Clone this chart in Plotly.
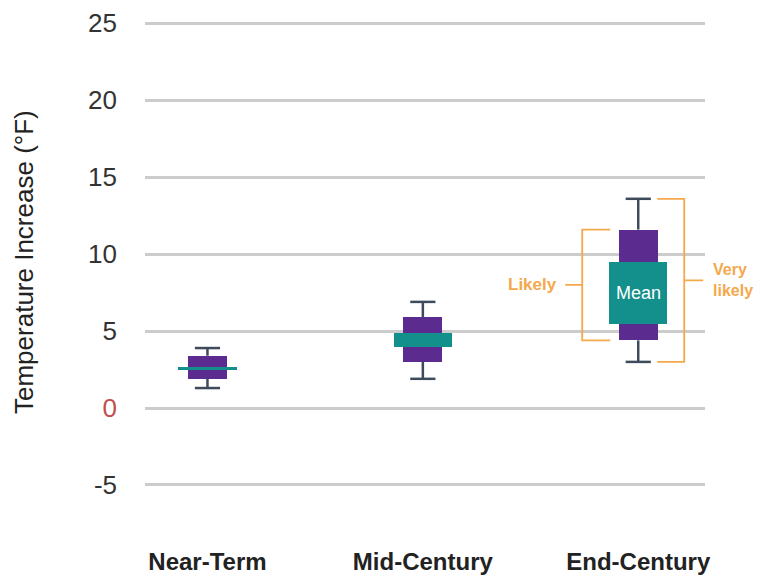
import plotly.graph_objects as go

categories = ["Near-Term", "Mid-Century", "End-Century"]
very_likely_low = [1.3, 1.9, 3.0]
very_likely_high = [3.9, 6.9, 13.6]
likely_low = [1.9, 3.0, 4.4]
likely_high = [3.4, 5.9, 11.6]
mean_low = [2.5, 4.0, 5.45]
mean_high = [2.7, 4.9, 9.5]

tick_vals = [-5, 0, 5, 10, 15, 20, 25]
tick_text = ["-5", "<span style='color:#c0504d'>0</span>", "5", "10", "15", "20", "25"]

PURPLE = "#5b2b8f"
TEAL = "#14908c"
WHISK = "#3e4b5c"
ORANGE = "#f5a84c"
FONT = "Liberation Sans, Arial, sans-serif"

fig = go.Figure()

# whisker stems (outside the boxes)
sx, sy = [], []
for c, vl, ll, lh, vh in zip(categories, very_likely_low, likely_low, likely_high, very_likely_high):
    sx += [c, c, None, c, c, None]
    sy += [vl, ll, None, lh, vh, None]
fig.add_trace(go.Scatter(x=sx, y=sy, mode="lines", line=dict(color=WHISK, width=2.5),
                         hoverinfo="skip", showlegend=False))
# whisker caps
fig.add_trace(go.Scatter(x=categories + categories, y=very_likely_low + very_likely_high,
                         mode="markers",
                         marker=dict(symbol="line-ew", size=18, line=dict(color=WHISK, width=2.5)),
                         hoverinfo="skip", showlegend=False))

# likely range (purple)
fig.add_trace(go.Bar(x=categories, base=likely_low,
                     y=[h - l for h, l in zip(likely_high, likely_low)],
                     width=0.18, marker=dict(color=PURPLE, line=dict(width=0)),
                     showlegend=False))
# mean range (teal)
fig.add_trace(go.Bar(x=categories, base=mean_low,
                     y=[h - l for h, l in zip(mean_high, mean_low)],
                     width=0.27, marker=dict(color=TEAL, line=dict(width=0)),
                     showlegend=False))

end = categories[2]
li_mid = (likely_low[2] + likely_high[2]) / 2
vl_mid = (very_likely_low[2] + very_likely_high[2]) / 2
fig.add_shape(type="path", xref="x", yref="y", xsizemode="pixel", xanchor=end,
              path=f"M -28,{likely_high[2]} L -56,{likely_high[2]} L -56,{likely_low[2]} L -28,{likely_low[2]} "
                   f"M -56,{li_mid} L -73,{li_mid}",
              line=dict(color=ORANGE, width=1.8))
fig.add_shape(type="path", xref="x", yref="y", xsizemode="pixel", xanchor=end,
              path=f"M 19,{very_likely_high[2]} L 46,{very_likely_high[2]} L 46,{very_likely_low[2]} L 19,{very_likely_low[2]} "
                   f"M 46,{vl_mid} L 65,{vl_mid}",
              line=dict(color=ORANGE, width=1.8))

fig.add_annotation(x=end, y=li_mid, xref="x", yref="y", text="<b>Likely</b>", showarrow=False,
                   xshift=-106, font=dict(family=FONT, size=17, color=ORANGE))
fig.add_annotation(x=end, y=vl_mid, xref="x", yref="y", text="<b>Very<br>likely</b>", showarrow=False,
                   xanchor="left", align="left", xshift=73,
                   font=dict(family=FONT, size=16, color=ORANGE))
fig.add_annotation(x=end, y=(mean_low[2] + mean_high[2]) / 2, xref="x", yref="y", text="Mean",
                   showarrow=False, font=dict(family=FONT, size=18, color="white"))
fig.add_annotation(x=0, y=0.527, xref="paper", yref="paper", xshift=-121, xanchor="center",
                   yanchor="middle",
                   text="Temperature Increase (°F)", textangle=-90, showarrow=False,
                   font=dict(family=FONT, size=26, color="#222"))

fig.update_layout(
    width=761, height=578,
    margin=dict(l=145, r=56, t=8, b=33),
    paper_bgcolor="white", plot_bgcolor="white",
    barmode="overlay", bargap=0,
    showlegend=False,
    font=dict(family=FONT, color="#222"),
)
fig.update_xaxes(type="category", range=[-0.29, 2.31], showgrid=False, zeroline=False,
                 showline=False, ticks="", automargin=False,
                 tickfont=dict(family=FONT, size=24, color="#222"),
                 ticktext=[f"<b>{c}</b>" for c in categories], tickvals=categories)
fig.update_yaxes(range=[-8.9, 26], tickvals=tick_vals, ticktext=tick_text,
                 showgrid=True, gridcolor="#cccccc", gridwidth=2.5, zeroline=False,
                 showline=False, ticks="", ticklabelstandoff=27, automargin=False,
                 tickfont=dict(family=FONT, size=26, color="#333"))

fig.write_html("out.html", config={"displayModeBar": False},
               post_script="document.body.style.margin='0';")
